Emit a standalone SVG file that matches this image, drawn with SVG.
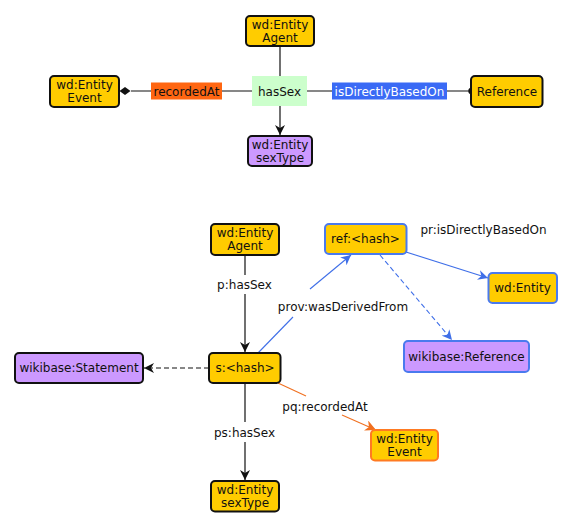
<svg xmlns="http://www.w3.org/2000/svg" width="573" height="528" viewBox="0 0 573 528">
<style>
text{font-family:"DejaVu Sans","Liberation Sans",sans-serif;font-size:12px;fill:#111;text-anchor:middle}
.n{stroke:#111;stroke-width:2}
.y{fill:#ffcc00}
.p{fill:#cc99ff}
.bb{stroke:#4a7aee;stroke-width:2}
.ob{stroke:#ff7a22;stroke-width:2}
.e{stroke:#111;stroke-width:1.2;fill:none}
.eb{stroke:#3f6fe8;stroke-width:1.1;fill:none}
.eo{stroke:#f07020;stroke-width:1.1;fill:none}
.w{fill:#fff}
</style>
<defs>
<marker id="vk" viewBox="0 0 10 10" refX="10" refY="5" markerWidth="10" markerHeight="10" markerUnits="userSpaceOnUse" orient="auto"><path d="M0,0 L10,5 L0,10 L3,5 Z" fill="#111"/></marker>
<marker id="vb" viewBox="0 0 10 10" refX="10" refY="5" markerWidth="10" markerHeight="10" markerUnits="userSpaceOnUse" orient="auto"><path d="M0,0 L10,5 L0,10 L3,5 Z" fill="#3f6fe8"/></marker>
<marker id="vo" viewBox="0 0 10 10" refX="10" refY="5" markerWidth="11" markerHeight="11" markerUnits="userSpaceOnUse" orient="auto"><path d="M0,0 L10,5 L0,10 L3,5 Z" fill="#f07020"/></marker>
</defs>
<g id="connectors">
<line class="e" x1="280" y1="46" x2="280" y2="76"/>
<line class="e" x1="280" y1="106" x2="280" y2="135" marker-end="url(#vk)"/>
<line class="e" x1="252" y1="91" x2="131" y2="91"/>
<path d="M119.5,91 L125,87 L130.5,91 L125,95 Z" fill="#111"/>
<line class="e" x1="307" y1="91" x2="471" y2="91"/>
<circle cx="471.5" cy="91" r="3.2" fill="#111"/>
<rect x="151" y="82.5" width="71" height="17" fill="#ff6611"/>
<text x="186.5" y="95.5">recordedAt</text>
<rect x="332" y="82.5" width="115" height="17" fill="#3a6af5"/>
<text x="389.5" y="95.5" style="fill:#fff">isDirectlyBasedOn</text>
<line class="e" x1="245" y1="255" x2="245" y2="275"/>
<line class="e" x1="245" y1="294" x2="245" y2="352" marker-end="url(#vk)"/>
<text x="244.5" y="289">p:hasSex</text>
<line class="e" x1="245" y1="383" x2="245" y2="422"/>
<line class="e" x1="245" y1="442" x2="245" y2="480" marker-end="url(#vk)"/>
<text x="244.5" y="437">ps:hasSex</text>
<line class="e" x1="209" y1="368" x2="144" y2="368" stroke-dasharray="5,3" marker-end="url(#vk)"/>
<path class="eb" d="M258,353 L293,317"/>
<path class="eb" d="M310,289 L351,255" marker-end="url(#vb)"/>
<text x="343" y="311">prov:wasDerivedFrom</text>
<path class="eb" d="M406,252 L488,278" marker-end="url(#vb)"/>
<text x="483.5" y="233.5">pr:isDirectlyBasedOn</text>
<path class="eb" d="M380,255 L452,340" stroke-dasharray="5,3" marker-end="url(#vb)"/>
<path class="eo" d="M278,383 L306,396"/>
<path class="eo" d="M342,415 L376,430" marker-end="url(#vo)"/>
<text x="325" y="411">pq:recordedAt</text>
</g>
<g id="agent_top"><rect class="n y" x="246" y="16" width="68" height="30" rx="4"/><text x="280" y="28.5">wd:Entity</text><text x="280" y="42">Agent</text></g>
<g id="hasSex"><rect x="252" y="76" width="55" height="30" fill="#ccffcc"/><text x="279.5" y="95.5">hasSex</text></g>
<g id="event_top"><rect class="n y" x="50" y="76" width="69" height="31" rx="4"/><text x="84.5" y="88.5">wd:Entity</text><text x="84.5" y="102">Event</text></g>
<g id="reference_top"><rect class="n y" x="471" y="76" width="71.5" height="31" rx="4"/><text x="507" y="95.5">Reference</text></g>
<g id="sextype_top"><rect class="n p" x="248" y="136" width="64" height="30" rx="4"/><text x="280" y="148.5">wd:Entity</text><text x="280" y="162">sexType</text></g>
<g id="agent"><rect class="n y" x="211" y="224" width="68" height="31" rx="4"/><text x="245" y="236.5">wd:Entity</text><text x="245" y="250">Agent</text></g>
<g id="statement"><rect class="n y" x="209" y="353" width="71.5" height="30" rx="4"/><text x="245" y="372">s:&lt;hash&gt;</text></g>
<g id="wikibase_statement"><rect class="n p" x="15" y="353" width="128" height="30" rx="4"/><text x="79" y="372">wikibase:Statement</text></g>
<g id="sextype"><rect class="n y" x="211" y="481" width="68" height="30.5" rx="4"/><text x="245" y="493.5">wd:Entity</text><text x="245" y="507">sexType</text></g>
<g id="ref"><rect class="bb y" x="325" y="224" width="81.5" height="30" rx="4"/><text x="365.5" y="243">ref:&lt;hash&gt;</text></g>
<g id="wd_entity"><rect class="bb y" x="488.5" y="273" width="68.5" height="30" rx="4"/><text x="522.5" y="292">wd:Entity</text></g>
<g id="wikibase_reference"><rect class="bb p" x="404" y="341" width="125" height="31" rx="4"/><text x="466.5" y="360.5">wikibase:Reference</text></g>
<g id="event"><rect class="ob y" x="371" y="430" width="67" height="30.5" rx="4"/><text x="404.5" y="442.5">wd:Entity</text><text x="404.5" y="456">Event</text></g>
</svg>
